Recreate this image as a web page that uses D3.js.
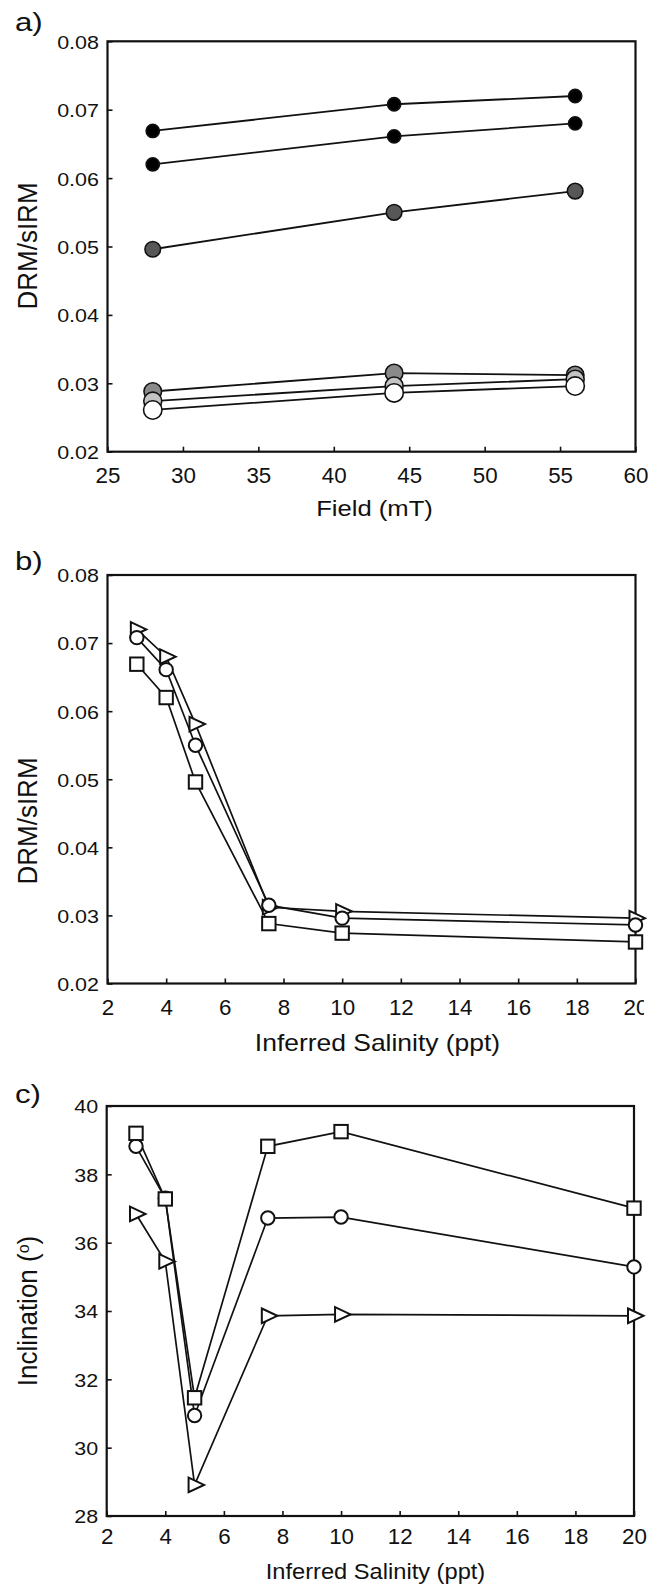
<!DOCTYPE html>
<html>
<head>
<meta charset="utf-8">
<script src="https://cdn.jsdelivr.net/npm/d3@7"></script>
<style>
  html, body { margin: 0; padding: 0; background: #fff; }
  svg { display: block; }
</style>
</head>
<body>
<svg id="fig" width="667" height="1587"></svg>
<script>
// ---- data ----
// salinity of each sediment batch (ppt) and applied field (mT)
const salinity = [3, 4, 5, 7.5, 10, 20];
const fields = [28, 44, 56];

// DRM/sIRM per field, ordered by salinity
const drm28 = [0.0669, 0.0620, 0.0496, 0.0288, 0.0274, 0.0261];
const drm44 = [0.0708, 0.0661, 0.0550, 0.0315, 0.0296, 0.0286];
const drm56 = [0.0720, 0.0680, 0.0581, 0.0312, 0.0306, 0.0296];

// inclination (degrees) per field, ordered by salinity
const inc28 = [39.20, 37.28, 31.46, 38.82, 39.25, 37.01];
const inc44 = [38.82, 37.30, 30.94, 36.72, 36.75, 35.29];
const inc56 = [36.84, 35.45, 28.91, 33.86, 33.90, 33.86];

// tick values
const fieldTicks = [25, 30, 35, 40, 45, 50, 55, 60];
const salinityTicks = [2, 4, 6, 8, 10, 12, 14, 16, 18, 20];
const drmTicks = [0.02, 0.03, 0.04, 0.05, 0.06, 0.07, 0.08];
const incTicks = [28, 30, 32, 34, 36, 38, 40];

// ---- styling ----
const FONT = "'Liberation Sans', Arial, Helvetica, sans-serif";
const salinityFill = ["#000", "#000", "#575757", "#8a8a8a", "#c4c4c4", "#fff"];
const salinityRadius = [6.6, 6.6, 7.8, 8.8, 9.0, 9.2];

const svg = d3.select("#fig");
svg.append("rect").attr("width", 667).attr("height", 1587).attr("fill", "#fff");

function label(g, x, y, str, size, sx, anchor) {
  return g.append("text")
    .attr("transform", `translate(${x},${y}) scale(${sx},1)`)
    .attr("text-anchor", anchor || "middle")
    .attr("font-family", FONT)
    .attr("font-size", size)
    .attr("fill", "#111")
    .text(str);
}

function panel(box, xDomain, yDomain, xTicks, yTicks, yFmt, xLabOff) {
  const x = d3.scaleLinear().domain(xDomain).range([box.x0, box.x1]);
  const y = d3.scaleLinear().domain(yDomain).range([box.y1, box.y0]);
  const g = svg.append("g");

  const gx = g.append("g").attr("transform", `translate(0,${box.y1})`)
    .call(d3.axisBottom(x).tickValues(xTicks).tickSize(-5).tickSizeOuter(0).tickFormat(d3.format("d")));
  gx.attr("font-family", FONT).attr("font-size", 21.5);
  gx.select(".domain").remove();
  gx.selectAll(".tick line").attr("stroke", "#111").attr("stroke-width", 1.6);
  gx.selectAll(".tick text").attr("y", null).attr("dy", null)
    .attr("fill", "#111")
    .attr("transform", `translate(0,${xLabOff}) scale(1.04,1)`);

  const gy = g.append("g").attr("transform", `translate(${box.x0},0)`)
    .call(d3.axisLeft(y).tickValues(yTicks).tickSize(-5).tickSizeOuter(0).tickFormat(yFmt));
  gy.attr("font-family", FONT).attr("font-size", 19.2);
  gy.select(".domain").remove();
  gy.selectAll(".tick line").attr("stroke", "#111").attr("stroke-width", 1.6);
  gy.selectAll(".tick text").attr("x", null).attr("dy", null)
    .attr("fill", "#111")
    .attr("transform", "translate(-8.5,6.9) scale(1.12,1)");

  g.append("rect")
    .attr("x", box.x0).attr("y", box.y0)
    .attr("width", box.x1 - box.x0).attr("height", box.y1 - box.y0)
    .attr("fill", "none").attr("stroke", "#111").attr("stroke-width", 2.2);

  return { g, x, y, gx };
}

function yTitle(g, cx, cy) {
  return g.append("text")
    .attr("transform", `translate(${cx},${cy}) scale(1.06,1) rotate(-90)`)
    .attr("text-anchor", "middle")
    .attr("font-family", FONT)
    .attr("font-size", 26)
    .attr("fill", "#111");
}

// ---- panel a: DRM/sIRM vs field, one line per salinity ----
const drmByField = [drm28, drm44, drm56];
{
  const box = { x0: 107.5, x1: 635.5, y0: 41.3, y1: 451.7 };
  const p = panel(box, [25, 60], [0.02, 0.08], fieldTicks, drmTicks, d3.format(".2f"), 31);
  const line = d3.line().x(d => p.x(d[0])).y(d => p.y(d[1]));
  const series = salinity.map((s, i) => fields.map((f, j) => [f, drmByField[j][i]]));

  p.g.append("g").selectAll("path").data(series).join("path")
    .attr("d", line).attr("fill", "none").attr("stroke", "#111").attr("stroke-width", 1.8);

  series.forEach((pts, i) => {
    p.g.append("g").selectAll("circle").data(pts).join("circle")
      .attr("cx", d => p.x(d[0])).attr("cy", d => p.y(d[1]))
      .attr("r", salinityRadius[i])
      .attr("fill", salinityFill[i]).attr("stroke", "#111").attr("stroke-width", 1.6);
  });

  label(svg, 15, 30.5, "a)", 26, 1.2, "start");
  label(svg, 374.5, 516, "Field (mT)", 22.5, 1.14);
  yTitle(svg, 36.5, 246).text("DRM/sIRM");
}

// markers for panels b and c: square = 28 mT, circle = 44 mT, triangle = 56 mT
function salinityPanel(box, yDomain, yTicks, yFmt, xLabOff, s28, s44, s56) {
  const p = panel(box, [2, 20], yDomain, salinityTicks, yTicks, yFmt, xLabOff);
  const line = d3.line().x(d => p.x(d[0])).y(d => p.y(d[1]));
  const pts = arr => salinity.map((s, i) => [s, arr[i]]);
  const sets = [pts(s28), pts(s44), pts(s56)];

  p.g.append("g").selectAll("path").data(sets).join("path")
    .attr("d", line).attr("fill", "none").attr("stroke", "#111").attr("stroke-width", 1.7);

  const mk = p.g.append("g").attr("fill", "#fff").attr("stroke", "#111").attr("stroke-width", 2);
  mk.append("g").selectAll("path").data(sets[2]).join("path")
    .attr("transform", d => `translate(${p.x(d[0])},${p.y(d[1])})`)
    .attr("d", "M-6,-7.3L9.5,0L-6,7.3Z").attr("stroke-linejoin", "miter");
  mk.append("g").selectAll("circle").data(sets[1]).join("circle")
    .attr("cx", d => p.x(d[0])).attr("cy", d => p.y(d[1])).attr("r", 6.7);
  mk.append("g").selectAll("rect").data(sets[0]).join("rect")
    .attr("x", d => p.x(d[0]) - 6.7).attr("y", d => p.y(d[1]) - 6.7)
    .attr("width", 13.4).attr("height", 13.4);
  return p;
}

// ---- panel b: DRM/sIRM vs inferred salinity ----
{
  const box = { x0: 107.5, x1: 635.5, y0: 575, y1: 983.5 };
  const p = salinityPanel(box, [0.02, 0.08], drmTicks, d3.format(".2f"), 31.5, drm28, drm44, drm56);
  // the right-most tick label runs off the figure edge
  svg.append("clipPath").attr("id", "clipB")
    .append("rect").attr("x", -10).attr("y", -20).attr("width", 654).attr("height", 70);
  p.gx.attr("clip-path", "url(#clipB)");

  label(svg, 15, 569.5, "b)", 26, 1.2, "start");
  label(svg, 377.5, 1050.5, "Inferred Salinity (ppt)", 23, 1.15);
  yTitle(svg, 36.5, 821).text("DRM/sIRM");
}

// ---- panel c: inclination vs inferred salinity ----
{
  const box = { x0: 106.7, x1: 634, y0: 1106, y1: 1516 };
  salinityPanel(box, [28, 40], incTicks, d3.format("d"), 27.5, inc28, inc44, inc56);

  label(svg, 15, 1102.5, "c)", 26, 1.2, "start");
  label(svg, 375.5, 1579, "Inferred Salinity (ppt)", 21.5, 1.10);
  const t = yTitle(svg, 37, 1311);
  t.append("tspan").text("Inclination (");
  t.append("tspan").attr("font-size", 16).attr("dy", -8).text("o");
  t.append("tspan").attr("dy", 8).text(")");
}
</script>
</body>
</html>
